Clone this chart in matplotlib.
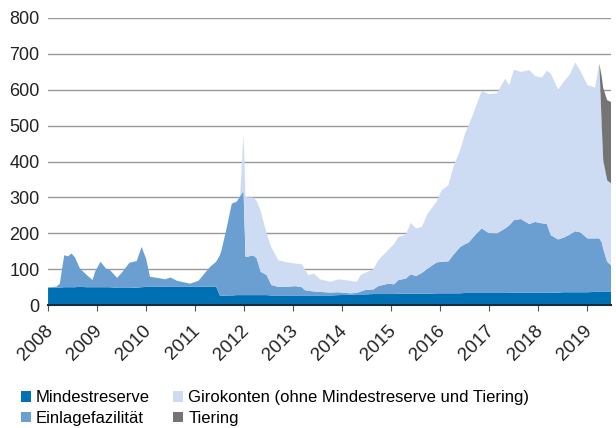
"""
Zentralbankguthaben: Mindestreserve, Einlagefazilität, Girokonten, Tiering
Stacked area chart, 2008 - mid 2019.
"""

import numpy as np
import matplotlib.pyplot as plt
from matplotlib.patches import Patch
from matplotlib.transforms import ScaledTranslation

plt.rcParams["font.family"] = ["Liberation Sans", "DejaVu Sans"]

# time axis (fractional years)
t = [2008.00, 2008.18, 2008.24, 2008.33, 2008.41, 2008.48, 2008.55, 2008.65, 2008.79, 2008.91,
     2008.96, 2009.07, 2009.18, 2009.27, 2009.41, 2009.52, 2009.66, 2009.81, 2009.91, 2010.00,
     2010.08, 2010.18, 2010.27, 2010.39, 2010.50, 2010.63, 2010.76, 2010.90, 2011.07, 2011.31,
     2011.43, 2011.51, 2011.54, 2011.65, 2011.75, 2011.85, 2011.92, 2011.99, 2012.03, 2012.07,
     2012.19, 2012.26, 2012.34, 2012.46, 2012.56, 2012.70, 2012.86, 2012.94, 2013.04, 2013.18,
     2013.24, 2013.31, 2013.43, 2013.55, 2013.76, 2013.93, 2014.16, 2014.30, 2014.38, 2014.47,
     2014.64, 2014.74, 2014.95, 2015.06, 2015.15, 2015.30, 2015.40, 2015.51, 2015.63, 2015.73,
     2015.80, 2015.93, 2016.03, 2016.17, 2016.27, 2016.41, 2016.51, 2016.58, 2016.68, 2016.85,
     2016.99, 2017.16, 2017.33, 2017.41, 2017.51, 2017.65, 2017.82, 2017.94, 2018.08, 2018.18,
     2018.26, 2018.41, 2018.52, 2018.64, 2018.76, 2018.86, 2019.01, 2019.16, 2019.25, 2019.30,
     2019.33, 2019.41, 2019.49]

mindestreserve = [49, 49, 49, 50, 50, 50, 50, 51, 50, 50,
                  50, 50, 50, 50, 48, 48, 48, 49, 50, 51,
                  51, 51, 51, 51, 51, 51, 51, 51, 51, 52,
                  52, 26, 26, 27, 27, 28, 28, 28, 28, 28,
                  28, 28, 28, 28, 27, 27, 27, 27, 27, 27,
                  27, 27, 27, 27, 27, 28, 29, 30, 30, 30,
                  31, 31, 31, 31, 32, 32, 32, 32, 32, 32,
                  32, 33, 33, 33, 33, 33, 34, 34, 34, 34,
                  34, 34, 34, 34, 35, 35, 35, 35, 35, 35,
                  35, 35, 36, 36, 36, 36, 36, 37, 37, 37,
                  37, 37, 37]

einlagefazilitaet = [0, 3, 11, 89, 86, 94, 83, 51, 34, 20,
                     43, 71, 52, 47, 28, 45, 70, 74, 112, 79,
                     28, 26, 24, 21, 26, 17, 13, 9, 17, 55,
                     69, 114, 127, 191, 256, 260, 276, 290, 107, 107,
                     111, 102, 65, 56, 29, 24, 24, 25, 26, 23,
                     15, 13, 11, 10, 8, 8, 4, 4, 8, 12,
                     13, 22, 29, 27, 38, 42, 54, 49, 58, 68,
                     75, 86, 88, 89, 107, 129, 136, 140, 156, 180,
                     167, 166, 180, 188, 202, 205, 191, 197, 193, 191,
                     160, 148, 152, 160, 170, 167, 150, 149, 149, 138,
                     120, 84, 74]

girokonten = [0, 0, 0, 0, 0, 0, 0, 0, 0, 0,
              0, 0, 0, 0, 0, 0, 0, 0, 0, 0,
              0, 0, 0, 0, 0, 0, 0, 0, 0, 0,
              0, 0, 0, 0, 0, 2, 2, 160, 167, 165,
              161, 160, 169, 116, 104, 74, 69, 66, 63, 64,
              58, 44, 50, 35, 30, 36, 35, 31, 46, 48,
              56, 72, 95, 112, 120, 122, 143, 133, 128, 151,
              158, 169, 199, 212, 245, 270, 308, 326, 344, 383,
              387, 390, 417, 391, 419, 410, 429, 406, 406, 427,
              450, 418, 434, 445, 470, 450, 427, 420, 487, 325,
              247, 227, 228]

tiering = [0] * 99 + [136, 201, 223, 227]

years = list(range(2008, 2020))

colors = ["#0070b4", "#6b9fd1", "#cedcf3", "#747474"]
labels = ["Mindestreserve", "Einlagefazilität",
          "Girokonten (ohne Mindestreserve und Tiering)", "Tiering"]

fig = plt.figure(figsize=(6.16, 4.28), dpi=100)
ax = fig.add_axes([0.078, 0.287, 0.914, 0.671])

ax.stackplot(t, mindestreserve, einlagefazilitaet, girokonten, tiering,
             colors=colors, linewidth=0, zorder=2)

ax.set_xlim(2008, 2019.49)
ax.set_ylim(0, 800)
ax.set_yticks(range(0, 801, 100))
ax.set_xticks(years)
ax.set_xticklabels([str(y) for y in years], rotation=45, ha="right",
                   rotation_mode="anchor", fontsize=13.5)
ax.tick_params(axis="y", length=0, labelsize=13, pad=6, colors="#222222")
ax.tick_params(axis="x", length=4, width=0.8, color="#555555", pad=8, colors="#222222")

# nudge rotated year labels a little to the left
shift = ScaledTranslation(-4 / 100, 0, fig.dpi_scale_trans)
for lbl in ax.get_xticklabels():
    lbl.set_transform(lbl.get_transform() + shift)

ax.grid(axis="y", color="#999999", linewidth=1, zorder=1)
ax.set_axisbelow(True)
for side in ["left", "right", "top"]:
    ax.spines[side].set_visible(False)
ax.spines["bottom"].set_color("#1c2b3a")
ax.spines["bottom"].set_linewidth(1.5)
ax.spines["bottom"].set_zorder(3)

handles = [Patch(facecolor=c, edgecolor="none") for c in colors]
# column-major fill: Mindestreserve, Einlagefazilität | Girokonten, Tiering
fig.legend(handles, labels,
           loc="upper left", bbox_to_anchor=(0.034, 0.088), ncol=2,
           frameon=False, fontsize=12, handlelength=0.6, handleheight=0.6,
           handletextpad=0.3, columnspacing=1.4, labelspacing=0.32,
           borderaxespad=0, borderpad=0)

plt.savefig("out.png", dpi=100)
plt.close()
